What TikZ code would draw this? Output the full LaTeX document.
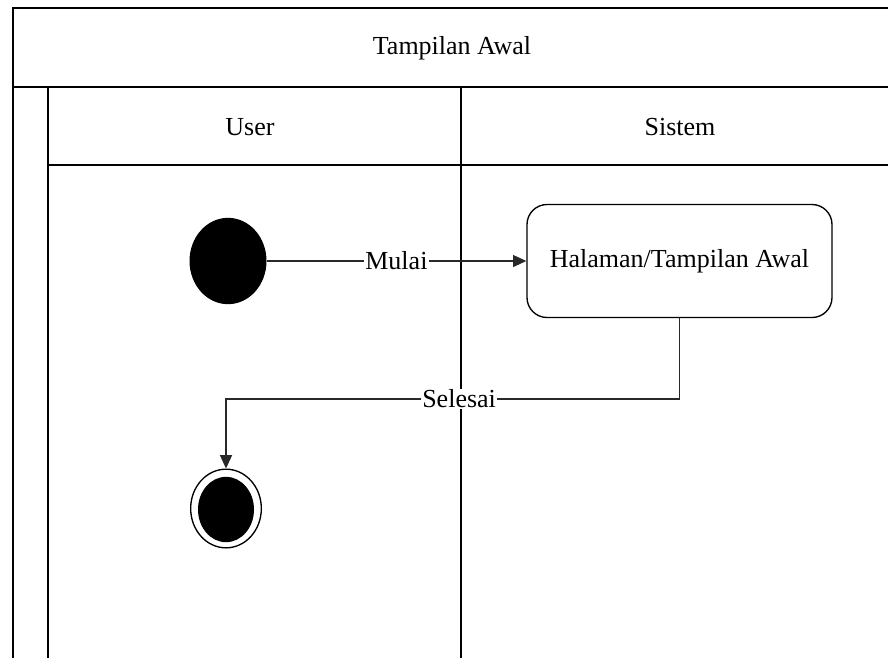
\documentclass[tikz,border=0pt]{standalone}
\usepackage{fontspec}
\setmainfont{Liberation Serif}
\usetikzlibrary{shapes.geometric,arrows.meta}

\tikzset{every picture/.style={line width=0.75pt}}
\tikzset{
  lanetext/.style={font=\fontsize{19.5}{22}\selectfont},
  lanebox/.style={draw=black,line width=1.5},
  flowline/.style={draw={rgb, 255:red, 40; green, 40; blue, 40},line width=1},
  flowtip/.style={-{Triangle[length=10pt,width=9pt]}}
}

\begin{document}
\begin{tikzpicture}[x=0.75pt,y=0.75pt,yscale=-1,xscale=1]
\useasboundingbox (0,0) rectangle (888,658);

%Shape: Swimlane frame
\draw [lanebox] (888,8) -- (13,8) -- (13,658) ;
\draw [lanebox] (13,87) -- (888,87) ;
\draw [lanebox] (48,87) -- (48,658) ;
\draw [lanebox] (48,165) -- (888,165) ;
\draw [lanebox] (461,87) -- (461,658) ;

% Text Node
\node [lanetext] (title) at (452,48) {Tampilan Awal};
% Text Node
\node [lanetext] (user) at (250,127) {User};
% Text Node
\node [lanetext] (sistem) at (680,127) {Sistem};

%Shape: Start
\node [ellipse,fill=black,draw=black,minimum width=57pt,minimum height=64pt,inner sep=0pt] (start) at (228,261) {};
%Shape: Rounded Rect
\node [draw=black,line width=1,rounded corners=15pt,minimum width=228.75pt,minimum height=84.75pt,lanetext] (halaman) at (679.5,261) {Halaman/Tampilan Awal};
%Shape: End
\node [ellipse,draw=black,line width=1,minimum width=53pt,minimum height=59pt,inner sep=0pt] (finish) at (226,508.5) {};
\node [ellipse,fill=black,minimum width=42pt,minimum height=49pt,inner sep=0pt] (finishdot) at (226,509.5) {};

%Straight Lines
\draw [flowline,flowtip] (start) -- node [fill=white,inner sep=1pt,lanetext] (mulai) {Mulai} (halaman) ;
%Elbow Lines
\coordinate (turn) at (679.5,399) ;
\draw [flowline,flowtip] (halaman.south) -- (turn) -| node [pos=0.243,fill=white,inner sep=1pt,lanetext] (selesai) {Selesai} (finish.north) ;

\end{tikzpicture}
\end{document}
